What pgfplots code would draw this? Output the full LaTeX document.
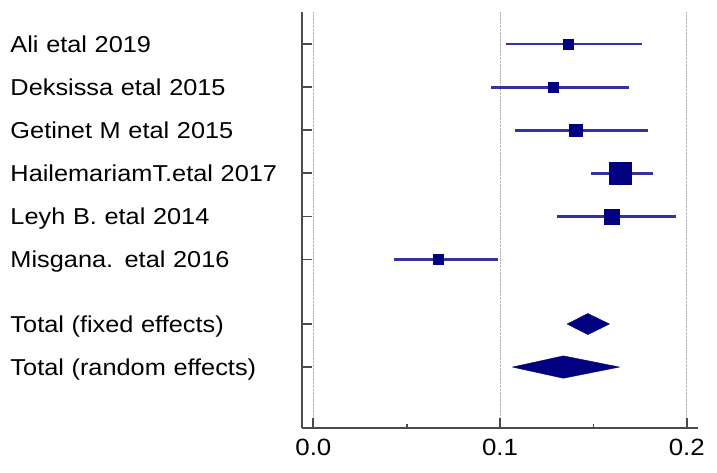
\documentclass[border=0pt]{standalone}
\usepackage{fontspec}
\setmainfont{Liberation Sans}[FakeStretch=1.1]
\usepackage{pgfplots}
\pgfplotsset{compat=1.18}
\usepackage{pgfplotstable}

\definecolor{ciblue}{RGB}{50,50,160}
\definecolor{navy}{RGB}{0,0,128}
\definecolor{axisgray}{RGB}{75,75,75}

% pos = row, est = point estimate, lo/hi = 95% CI, sz = half side of the square
\pgfplotstableread{
pos est    lo     hi     sz
1   0.1366 0.1032 0.1759 5.0
2   0.1286 0.0952 0.1693 5.0
3   0.1405 0.1079 0.1793 6.3
4   0.1643 0.1489 0.1818 11.0
5   0.1598 0.1304 0.1941 7.3
6   0.0668 0.0434 0.0989 4.8
}\studies

\begin{document}
\begin{tikzpicture}
\begin{axis}[
  name=ax,
  scale only axis,
  width=396bp, height=416bp,
  xmin=-0.0062, xmax=0.206,
  ymin=0.25, ymax=9.92,
  y dir=reverse,
  axis x line*=bottom, axis y line*=left,
  axis line style={draw=axisgray, line width=1.8bp},
  tick align=inside,
  major tick length=10bp, minor tick length=4bp,
  tick style={draw=axisgray, line width=1.8bp},
  xtick={0,0.1,0.2}, minor xtick={0.05,0.15},
  xmajorgrids,
  grid style={densely dotted, black!30, line width=0.7bp},
  xticklabel style={
    font=\fontsize{23.5bp}{28bp}\selectfont, yshift=-7bp,
    /pgf/number format/.cd, fixed, fixed zerofill, precision=1,
    assume math mode=true},
  ytick={1,2,3,4,5,6,7.5,8.5},
  yticklabels={Ali etal 2019, Deksissa etal 2015, Getinet M etal 2015,
    HailemariamT.etal 2017, Leyh B. etal 2014, Misgana. etal 2016,
    Total (fixed effects), Total (random effects)},
  yticklabel style={font=\fontsize{23bp}{28bp}\selectfont,
    anchor=east, align=left, text width=291bp, inner xsep=0pt,
    text height=17bp, text depth=0bp},
  clip=false,
]
% confidence intervals
\addplot[ciblue, only marks, mark=none,
  error bars/.cd, x dir=both, x explicit, error mark=none,
  error bar style={draw=ciblue, line width=2.4bp}]
  table[x=est, y=pos,
    x error plus expr=\thisrow{hi}-\thisrow{est},
    x error minus expr=\thisrow{est}-\thisrow{lo}] {\studies};
% study weights
\addplot[scatter, only marks, mark=square*, line width=0.4bp,
  scatter/use mapped color={draw=navy, fill=navy},
  visualization depends on={\thisrow{sz} \as \sz},
  scatter/@pre marker code/.append style={/tikz/mark size=\sz}]
  table[x=est, y=pos] {\studies};
% pooled estimates
\addplot[fill=navy, draw=navy, line width=0.4bp] coordinates {
  (0.1359,7.5) (0.147,7.255) (0.1586,7.5) (0.147,7.745) (0.1359,7.5)};
\addplot[fill=navy, draw=navy, line width=0.4bp] coordinates {
  (0.1066,8.5) (0.1339,8.24) (0.1639,8.5) (0.1339,8.76) (0.1066,8.5)};
\end{axis}
\path ([shift={(-301.7bp,-44.3bp)}]ax.south west) rectangle ([shift={(19bp,12bp)}]ax.north east);
\end{tikzpicture}
\end{document}
